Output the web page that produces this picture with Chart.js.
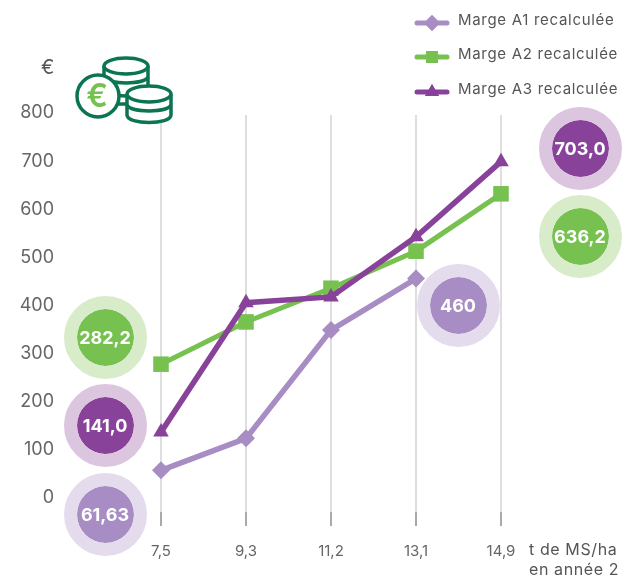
<!DOCTYPE html>
<html>
<head>
<meta charset="utf-8">
<title>Marge recalculée</title>
<script src="https://cdn.jsdelivr.net/npm/chart.js@4"></script>
<style>
    html, body { margin: 0; padding: 0; background: #fff; }
    body { width: 624px; height: 575px; position: relative; overflow: hidden; font-family: Inter, sans-serif; color: #555; }
    #chart { position: absolute; left: 0; top: 0; }
    .bubble { position: absolute; width: 57px; height: 57px; border-radius: 50%; border: 13px solid; background-clip: padding-box;
              color: #fff; font-weight: 700; font-size: 18px; line-height: 57px; text-align: center; }
    .legend-row { position: absolute; left: 414px; height: 20px; font-size: 15px; letter-spacing: 0.7px; line-height: 20px; white-space: nowrap; color: #555; }
    .legend-row canvas { position: absolute; left: 0; top: 0; }
    .legend-row span { position: absolute; left: 44px; top: -2px; }
    .note { position: absolute; font-size: 16px; letter-spacing: 0.6px; color: #555; white-space: nowrap; }
    #coins { position: absolute; left: 70px; top: 50px; }
</style>
</head>
<body>
<canvas id="chart" width="624" height="575"></canvas>
<div id="legend"></div>
<div id="bubbles"></div>
<div class="note" style="left:41px;top:55px;font-size:20px;letter-spacing:0">€</div>
<div class="note" style="left:529px;top:539px;line-height:20px">t de MS/ha<br>en année 2</div>
<svg id="coins" width="110" height="80" viewBox="70 50 110 80" fill="#fff" stroke="#0b7452" stroke-width="3.5">
    <path d="M104 66v38h44V66"/>
    <ellipse cx="126" cy="66" rx="22" ry="8"/>
    <path d="M104 77c4 8 40 8 44 0" fill="none"/>
    <path d="M104 90c4 8 40 8 44 0" fill="none"/>
    <path d="M127 94v21c0 10 44 10 44 0V94"/>
    <ellipse cx="149" cy="94" rx="22" ry="8"/>
    <path d="M127 105c4 8 40 8 44 0" fill="none"/>
    <circle cx="98" cy="96" r="21"/>
    <text x="97" y="107" text-anchor="middle" font-family="Inter, sans-serif" font-size="32" font-weight="600" fill="#76c14f" stroke="none">€</text>
</svg>
<script>
const categories = ['7,5', '9,3', '11,2', '13,1', '14,9'];
const yTicks = [0, 100, 200, 300, 400, 500, 600, 700, 800];

const seriesNames = ['Marge A1 recalculée', 'Marge A2 recalculée', 'Marge A3 recalculée'];
const margeA1 = [61.63, 128, 353, 460, null];
const margeA2 = [282.2, 370, 440, 517, 636.2];
const margeA3 = [141.0, 410, 422, 547, 703.0];

const purple = '#88429a';
const green = '#76c14f';
const lilac = '#a78dc3';

const datasets = [
    { label: seriesNames[0], data: margeA1, borderColor: lilac, backgroundColor: lilac, pointStyle: 'rectRot', pointRadius: 9, borderWidth: 5.5, order: 3 },
    { label: seriesNames[1], data: margeA2, borderColor: green, backgroundColor: green, pointStyle: 'rect', pointRadius: 11, borderWidth: 5, order: 2 },
    { label: seriesNames[2], data: margeA3, borderColor: purple, backgroundColor: purple, pointStyle: 'triangle', pointRadius: 9, borderWidth: 5.5, order: 1 }
];
datasets.forEach(d => {
    d.tension = 0;
    d.pointBorderWidth = 0;
    d.pointHoverRadius = d.pointRadius;
});

const chart = new Chart(document.getElementById('chart').getContext('2d'), {
    type: 'line',
    data: { labels: categories, datasets: datasets },
    options: {
        responsive: false,
        animation: false,
        layout: { padding: { top: 115, right: 123, left: 0, bottom: 0 } },
        plugins: { legend: { display: false }, tooltip: { enabled: false } },
        scales: {
            x: {
                grid: { color: '#dedede', lineWidth: 2, tickColor: '#aaa', tickLength: 14, tickWidth: 2 },
                border: { display: false },
                ticks: { color: '#666', font: { family: 'Inter', size: 15 }, padding: 16, maxRotation: 0, autoSkip: false },
                afterFit: scale => { scale.height = 63; }
            },
            y: {
                min: -25,
                max: 800,
                // tick space is only there to push the labels left, the marks are not drawn
                grid: { display: false, drawTicks: true, tickLength: 103 },
                border: { display: false },
                ticks: { color: '#666', font: { family: 'Inter', size: 18 }, padding: 4, labelOffset: -2, autoSkip: false },
                afterBuildTicks: scale => { scale.ticks = yTicks.map(v => ({ value: v })); },
                afterFit: scale => { scale.width = 161; }
            }
        }
    }
});

// legend: same markers as the chart, next to the series name
const legendTops = [12, 46, 81];
datasets.forEach((d, i) => {
    const row = document.createElement('div');
    row.className = 'legend-row';
    row.style.top = legendTops[i] + 'px';
    const icon = document.createElement('canvas');
    icon.width = 36;
    icon.height = 20;
    const ctx = icon.getContext('2d');
    ctx.strokeStyle = d.borderColor;
    ctx.fillStyle = d.borderColor;
    ctx.lineWidth = 5;
    ctx.lineCap = 'round';
    ctx.beginPath();
    ctx.moveTo(3, 11);
    ctx.lineTo(33, 11);
    ctx.stroke();
    ctx.lineWidth = 0;
    Chart.helpers.drawPoint(ctx, { pointStyle: d.pointStyle, rotation: 0, radius: d.pointStyle === 'rect' ? 8.5 : 8, borderWidth: 0 }, 18, 11);
    ctx.fill();
    const name = document.createElement('span');
    name.textContent = d.label;
    row.appendChild(icon);
    row.appendChild(name);
    document.getElementById('legend').appendChild(row);
});

// value callouts at both ends of the series
const callouts = [
    { text: '282,2', cx: 105, cy: 337, color: green, ring: '#d8ecca' },
    { text: '141,0', cx: 105, cy: 425, color: purple, ring: '#dcc6df' },
    { text: '61,63', cx: 105, cy: 514, color: lilac, ring: '#e4dced' },
    { text: '703,0', cx: 580, cy: 148, color: purple, ring: '#dcc6df' },
    { text: '636,2', cx: 580, cy: 236, color: green, ring: '#d8ecca' },
    { text: '460', cx: 458, cy: 305, color: lilac, ring: '#e4dced' }
];
callouts.forEach(c => {
    const el = document.createElement('div');
    el.className = 'bubble';
    el.textContent = c.text;
    el.style.left = (c.cx - 41.5) + 'px';
    el.style.top = (c.cy - 41.5) + 'px';
    el.style.backgroundColor = c.color;
    el.style.borderColor = c.ring;
    document.getElementById('bubbles').appendChild(el);
});
</script>
</body>
</html>
